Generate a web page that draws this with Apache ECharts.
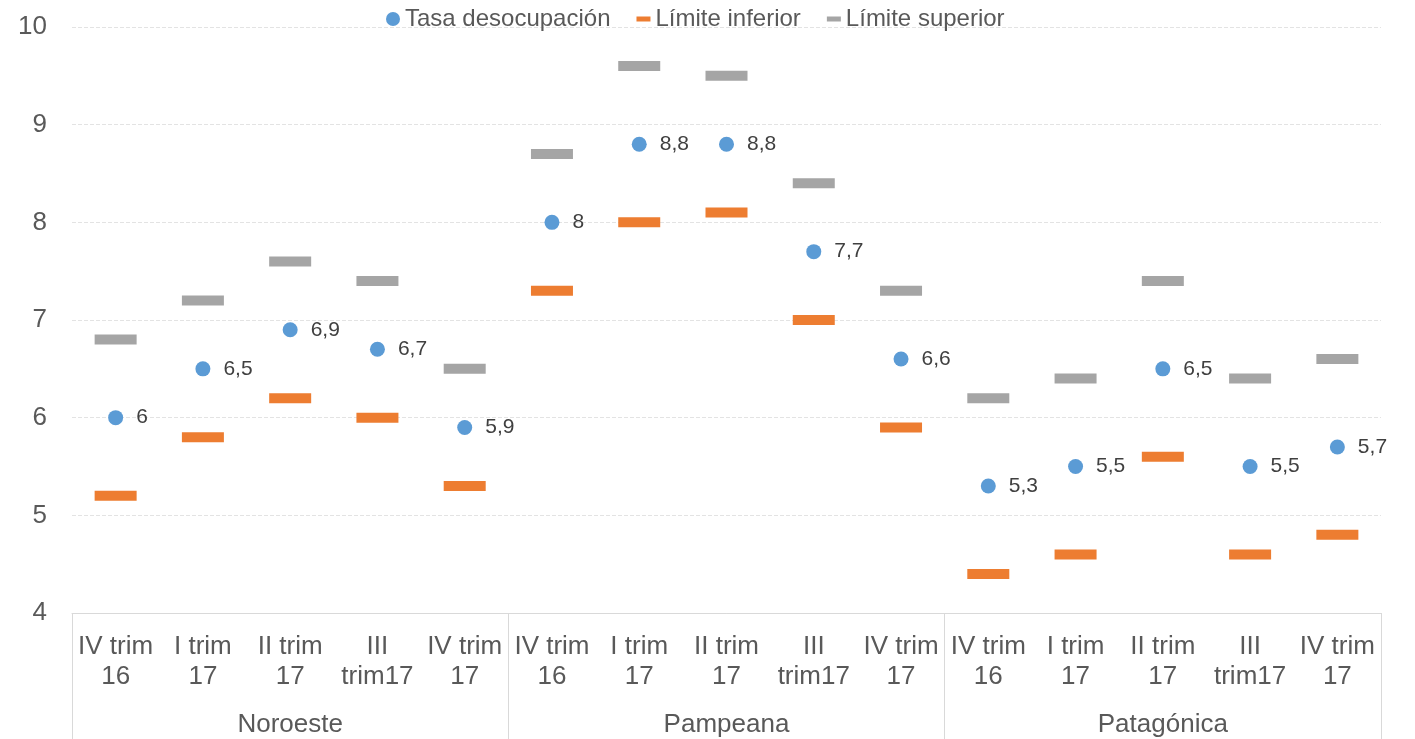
<!DOCTYPE html>
<html>
<head>
<meta charset="utf-8">
<script src="https://cdn.jsdelivr.net/npm/echarts@6/dist/echarts.min.js"></script>
<style>html,body{margin:0;padding:0;background:#fff}#c{width:1415px;height:739px}</style>
</head>
<body>
<div id="c"></div>
<script>
const categories = ['IV trim\n16','I trim\n17','II trim\n17','III\ntrim17','IV trim\n17',
                    'IV trim\n16','I trim\n17','II trim\n17','III\ntrim17','IV trim\n17',
                    'IV trim\n16','I trim\n17','II trim\n17','III\ntrim17','IV trim\n17'];
const groups = ['Noroeste','Pampeana','Patagónica'];
const tasa = [6,6.5,6.9,6.7,5.9, 8,8.8,8.8,7.7,6.6, 5.3,5.5,6.5,5.5,5.7];
const limInf = [5.2,5.8,6.2,6.0,5.3, 7.3,8.0,8.1,7.0,5.9, 4.4,4.6,5.6,4.6,4.8];
const limSup = [6.8,7.2,7.6,7.4,6.5, 8.7,9.6,9.5,8.4,7.3, 6.2,6.4,7.4,6.4,6.6];

const FONT = '"Liberation Sans", Arial, sans-serif';
const chart = echarts.init(document.getElementById('c'));
chart.setOption({
  animation: false,
  textStyle: {fontFamily: FONT},
  grid: {left: 72, right: 34, top: 27, bottom: 126, containLabel: false},
  legend: {
    top: 2, left: 381, itemGap: 26, itemWidth: 14, itemHeight: 14,
    symbolKeepAspect: true,
    textStyle: {fontSize: 24, color: '#595959', fontFamily: FONT},
    data: [
      {name: 'Tasa desocupación', icon: 'circle'},
      {name: 'Límite inferior', icon: 'path://M0,0h14v5h-14z'},
      {name: 'Límite superior', icon: 'path://M0,0h14v5h-14z'}
    ]
  },
  xAxis: [
    {type: 'category', data: categories, position: 'bottom',
     axisLine: {show: true, lineStyle: {color: '#d9d9d9', width: 1}},
     axisTick: {show: false},
     axisLabel: {interval: 0, fontSize: 26, lineHeight: 30, color: '#595959', margin: 19, fontFamily: FONT}},
    {type: 'category', data: groups, position: 'bottom',
     axisLine: {show: false},
     axisTick: {show: true, length: 126, lineStyle: {color: '#d9d9d9', width: 1}},
     axisLabel: {interval: 0, fontSize: 26, color: '#595959', margin: 99, fontFamily: FONT}}
  ],
  yAxis: {
    type: 'value', min: 4, max: 10, interval: 1,
    axisLine: {show: false}, axisTick: {show: false},
    axisLabel: {fontSize: 26, color: '#595959', margin: 25, fontFamily: FONT},
    splitLine: {lineStyle: {color: '#e3e3e3', type: 'dashed'}}
  },
  series: [
    {name: 'Límite inferior', type: 'scatter', xAxisIndex: 0, data: limInf,
     symbol: 'rect', symbolSize: [42, 10], itemStyle: {color: '#ed7d31', opacity: 1}},
    {name: 'Límite superior', type: 'scatter', xAxisIndex: 0, data: limSup,
     symbol: 'rect', symbolSize: [42, 10], itemStyle: {color: '#a5a5a5', opacity: 1}},
    {name: 'Tasa desocupación', type: 'scatter', xAxisIndex: 0, data: tasa,
     symbol: 'circle', symbolSize: 15, itemStyle: {color: '#5b9bd5', opacity: 1},
     label: {show: true, position: 'right', distance: 13, fontSize: 21, color: '#404040', fontFamily: FONT,
             formatter: p => String(p.value).replace('.', ',')}}
  ]
});
</script>
</body>
</html>
